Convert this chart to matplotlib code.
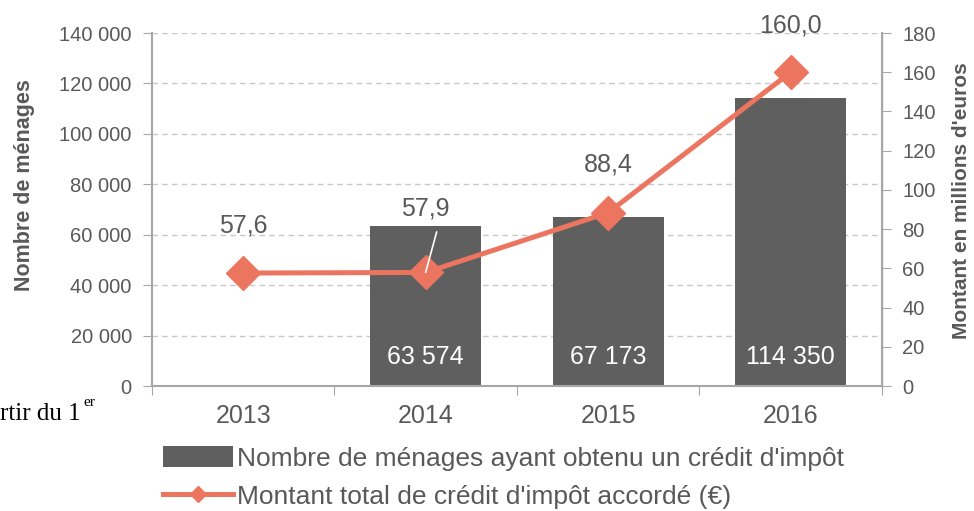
import numpy as np
import matplotlib.pyplot as plt
from matplotlib.lines import Line2D
from matplotlib.patches import Patch

plt.rcParams['font.family'] = ['Liberation Sans', 'DejaVu Sans']

years = ['2013', '2014', '2015', '2016']
menages = [0, 63574, 67173, 114350]
bar_labels = ['', '63 574', '67 173', '114 350']
montant = [57.6, 57.9, 88.4, 160.0]
montant_labels = ['57,6', '57,9', '88,4', '160,0']

grey = '#595959'
bar_col = '#5f5f5f'
line_col = '#ec7560'
axis_col = '#a6a6a6'

fig = plt.figure(figsize=(9.74, 5.11), dpi=100)
ax = fig.add_axes([0.156, 0.2446, 0.7495, 0.6908])
ax2 = ax.twinx()

x = np.arange(len(years))
ax.bar(x[1:], menages[1:], width=0.61, color=bar_col, zorder=2)
ax.set_xlim(-0.5, 3.5)
ax.set_ylim(0, 140000)
ax.set_yticks(np.arange(0, 140001, 20000))
ax.set_yticklabels(['{:,}'.format(v).replace(',', ' ') for v in range(0, 140001, 20000)])
ax.grid(axis='y', color='#c8c8c8', linestyle=(0, (4, 3)), linewidth=1, zorder=0)
ax.set_axisbelow(True)

# x ticks at category boundaries, labels at centres
ax.set_xticks(np.arange(-0.5, 3.6, 1))
ax.set_xticklabels([])
ax.set_xticks(x, minor=True)
ax.set_xticklabels(years, minor=True, fontsize=18, color=grey)
ax.tick_params(axis='x', which='major', length=6.5, color=axis_col, direction='out')
ax.tick_params(axis='x', which='minor', length=0, pad=13)
ax.tick_params(axis='y', length=6.5, color=axis_col, labelsize=14.5, labelcolor=grey, pad=8)

ax.spines['top'].set_visible(False)
ax2.spines['top'].set_visible(False)
for s in ['left', 'bottom']:
    ax.spines[s].set_color(axis_col)
    ax.spines[s].set_linewidth(1.5)
ax2.spines['right'].set_color(axis_col)
ax2.spines['right'].set_linewidth(1.5)
ax2.spines['left'].set_visible(False)
ax2.spines['bottom'].set_visible(False)

for xi, v, lab in zip(x, menages, bar_labels):
    if lab:
        ax.text(xi, 11500, lab, ha='center', va='center', color='white', fontsize=18)

ax.set_ylabel('Nombre de ménages', fontsize=15.5, fontweight='bold', color=grey)
ax.yaxis.set_label_coords(-0.16, 0.57)

ax2.plot(x, montant, color=line_col, linewidth=3.6, marker='D', markersize=17, zorder=3)
ax2.set_ylim(0, 180)
ax2.set_yticks(np.arange(0, 181, 20))
ax2.tick_params(axis='y', length=6.5, color=axis_col, labelsize=14.5, labelcolor=grey, pad=8)
ax2.set_ylabel("Montant en millions d'euros", fontsize=15, fontweight='bold', color=grey)
ax2.yaxis.set_label_coords(1.096, 0.524)

offsets = [24, 32.5, 24.5, 24]
for xi, v, lab, off in zip(x, montant, montant_labels, offsets):
    ax2.text(xi, v + off, lab, ha='center', va='center', color=grey, fontsize=18)
# leader line for 2014 label
ax2.plot([x[1] + 0.06, x[1]], [montant[1] + 20.6, montant[1] + 0.2], color='white', linewidth=1.2, zorder=4)

handles = [Patch(facecolor=bar_col, edgecolor='none'),
           Line2D([0], [0], color=line_col, linewidth=3.6, marker='D', markersize=8)]
labels = ["Nombre de ménages ayant obtenu un crédit d'impôt",
          "Montant total de crédit d'impôt accordé (€)"]
fig.legend(handles, labels, loc='upper left', bbox_to_anchor=(0.167, 0.128), frameon=False,
           fontsize=19, labelcolor=grey, handlelength=2.65, handleheight=0.9, handletextpad=0.15,
           labelspacing=0.5, borderaxespad=0, borderpad=0)

fig.text(0.0, 0.19, 'rtir du 1', fontsize=18, family='Liberation Serif', va='center')
fig.text(0.086, 0.212, 'er', fontsize=11, family='Liberation Serif', va='center')

fig.savefig('out.png', dpi=100)
